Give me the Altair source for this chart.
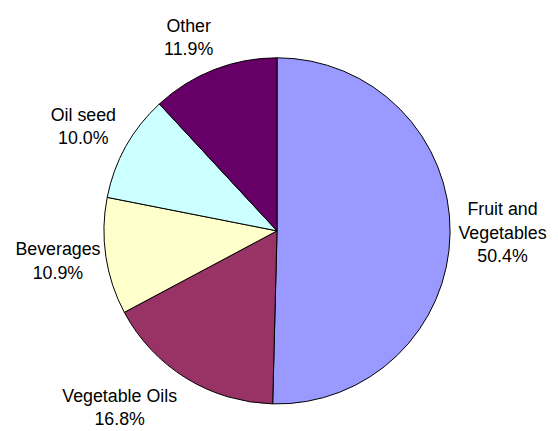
import altair as alt
import pandas as pd

categories = ["Fruit and Vegetables", "Vegetable Oils", "Beverages", "Oil seed", "Other"]
label_text = ["Fruit and\nVegetables", "Vegetable Oils", "Beverages", "Oil seed", "Other"]
shares = [50.4, 16.8, 10.9, 10.0, 11.9]
colors = ["#9999FF", "#993366", "#FFFFCC", "#CCFFFF", "#660066"]

# layout constants (pixels, chart coordinates)
CX, CY, R = 272, 223, 175
LABEL_GAP = 8
FONT_SIZE = 18
LINE_H = 24

df = pd.DataFrame({
    "category": categories,
    "label": label_text,
    "share": shares,
    "idx": list(range(len(categories))),
})

base = alt.Chart(df)

theta = alt.Theta("share:Q", stack=True)
order = alt.Order("idx:Q", sort="ascending")

pie = base.mark_arc(outerRadius=R, stroke="black", strokeWidth=1).encode(
    theta=theta,
    order=order,
    color=alt.Color("category:N", scale=alt.Scale(domain=categories, range=colors), legend=None),
    x=alt.value(CX),
    y=alt.value(CY),
)

labels = base.transform_window(
    cum="sum(share)", sort=[alt.SortField("idx", order="ascending")]
).transform_joinaggregate(
    total="sum(share)"
).transform_calculate(
    txt="datum.label + '\\n' + format(datum.share, '.1f') + '%'",
    ang="2 * PI * (datum.cum - datum.share / 2) / datum.total",
    nlines="length(split(datum.label, '\\n')) + 1",
    maxlen="max(length(split(datum.label, '\\n')[0]), length(split(datum.label, '\\n')[1] || ''), 5)",
).transform_calculate(
    hw=f"datum.maxlen * {FONT_SIZE} * 0.5 / 2",
    hh=f"datum.nlines * {LINE_H} / 2",
    ax=f"{CX} + {R + LABEL_GAP} * sin(datum.ang)",
    ay=f"{CY} - {R + LABEL_GAP} * cos(datum.ang)",
).transform_calculate(
    px="datum.ax + datum.hw * clamp(3 * sin(datum.ang), -1, 1)",
    py=f"datum.ay - datum.hh * clamp(1.3 * cos(datum.ang), -1, 1) - (datum.nlines - 1) * {LINE_H} / 2",
).mark_text(
    fontSize=FONT_SIZE, font="Liberation Sans", color="black",
    lineBreak="\n", lineHeight=LINE_H, align="center", baseline="middle",
).encode(
    x=alt.X("px:Q", scale=None, axis=None),
    y=alt.Y("py:Q", scale=None, axis=None),
    text="txt:N",
)

chart = alt.layer(pie, labels).properties(
    width=548, height=423, padding=0,
    autosize=alt.AutoSizeParams(type="none"),
).configure_view(stroke=None)

chart.save("out.html", embed_options={"renderer": "svg", "actions": False})
